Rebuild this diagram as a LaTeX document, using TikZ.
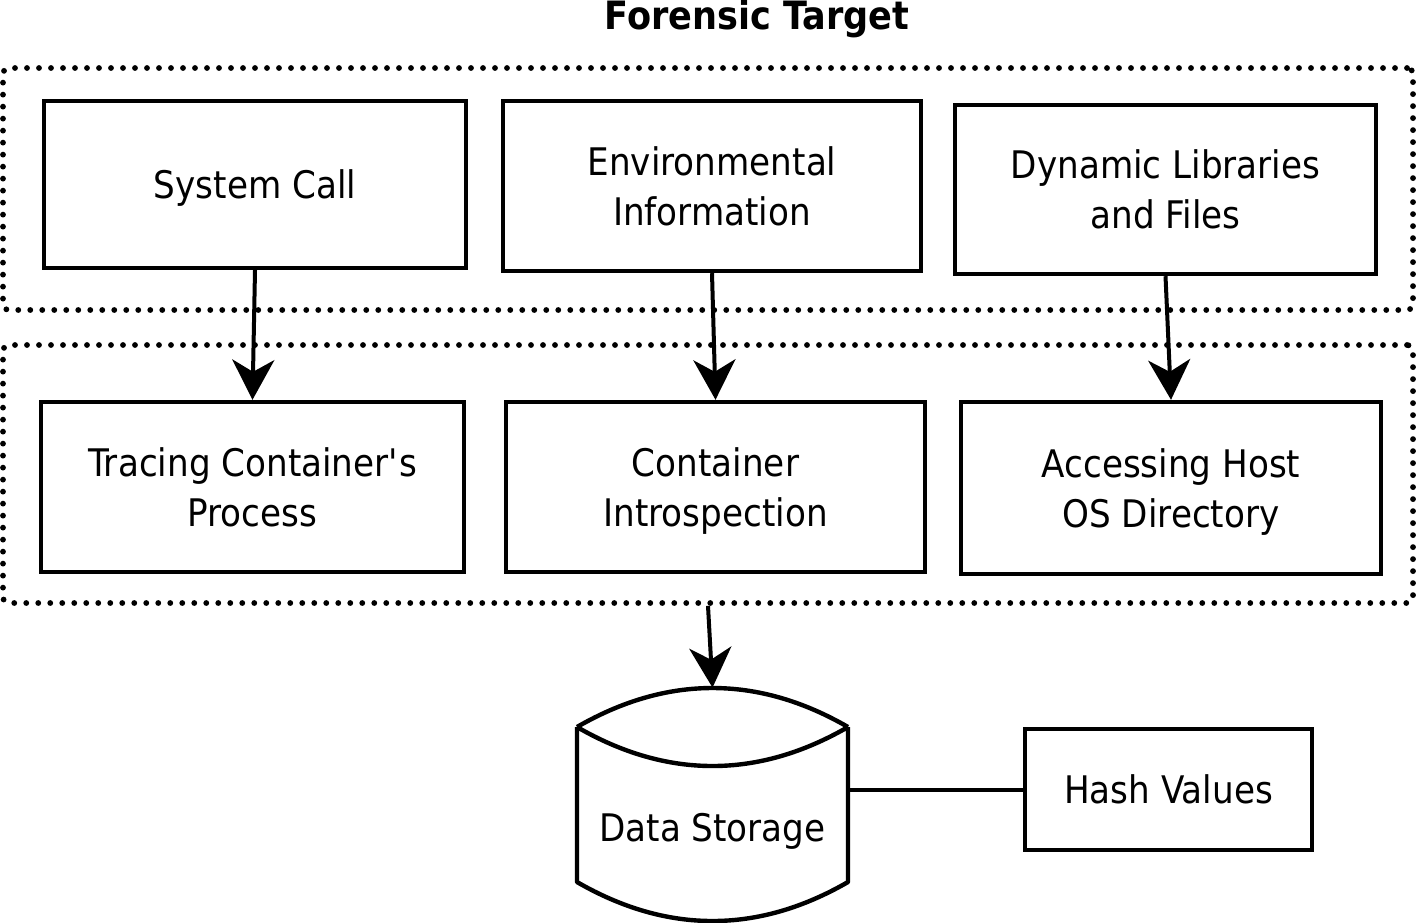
\documentclass[tikz,border=0pt]{standalone}
\usepackage{fontspec}
\setmainfont{DejaVu Sans}[FakeStretch=0.9]
\usetikzlibrary{arrows.meta,calc}
\begin{document}
\begin{tikzpicture}[x=0.5pt,y=-0.5pt,
  txt/.style={font=\fontsize{19}{25}\selectfont, align=center},
  box/.style={txt, draw, line width=2.2pt, rectangle, inner sep=0pt, text depth=0pt},
  grp/.style={draw, line width=2.9pt, line cap=round, dash pattern=on 0pt off 6pt, rounded corners=3pt, inner sep=0pt},
  arr/.style={line width=2pt, -{Stealth[length=20pt,width=21pt,inset=6pt]}},
  ]
\useasboundingbox (0,0) rectangle (1416,922);
\node[txt, font=\fontsize{19.5}{25}\selectfont\bfseries] (title) at (757,19) {Forensic Target};
\node[grp, minimum width=705pt, minimum height=121pt] (g1) at (708,189) {};
\node[grp, minimum width=705pt, minimum height=129pt] (g2) at (708,474) {};
\node[box, minimum width=211pt, minimum height=83.5pt] (sc) at (255,184.5) {System Call};
\node[box, minimum width=209pt, minimum height=85pt] (env) at (712,186) {Environmental\\Information};
\node[box, minimum width=210.5pt, minimum height=84.5pt] (dyn) at (1165.5,189.5) {Dynamic Libraries\\and Files};
\node[box, minimum width=211.5pt, minimum height=85pt] (tr) at (252.5,487) {Tracing Container\textquotesingle s\\Process};
\node[box, minimum width=209.5pt, minimum height=85pt] (ci) at (715.5,487) {Container\\Introspection};
\node[box, minimum width=210pt, minimum height=86pt] (acc) at (1171,488) {Accessing Host\\OS Directory};
\node[box, minimum width=143.5pt, minimum height=60.5pt] (hash) at (1168.5,789.5) {Hash Values};
\node[txt, minimum width=135.5pt, minimum height=116pt, inner sep=0pt] (ds) at (712.5,804) {\raisebox{-18.5pt}[0pt][0pt]{Data Storage}};
% cylinder outline
\draw[line width=2.2pt, line join=round]
  (577,727) .. controls (667,675) and (758,675) .. (848,727)
  (577,727) .. controls (667,779) and (758,779) .. (848,727)
  (577,727) -- (577,882) .. controls (667,934) and (758,934) .. (848,882) -- (848,727);
% connectors
\draw[arr] (sc.south) -- (tr.north);
\draw[arr] (env.south) -- (ci.north);
\draw[arr] (dyn.south) -- (acc.north);
\draw[arr] (g2.south) -- (ds.north);
\draw[line width=2pt] (hash.west -| ds.east) -- (hash.west);
\end{tikzpicture}
\end{document}
